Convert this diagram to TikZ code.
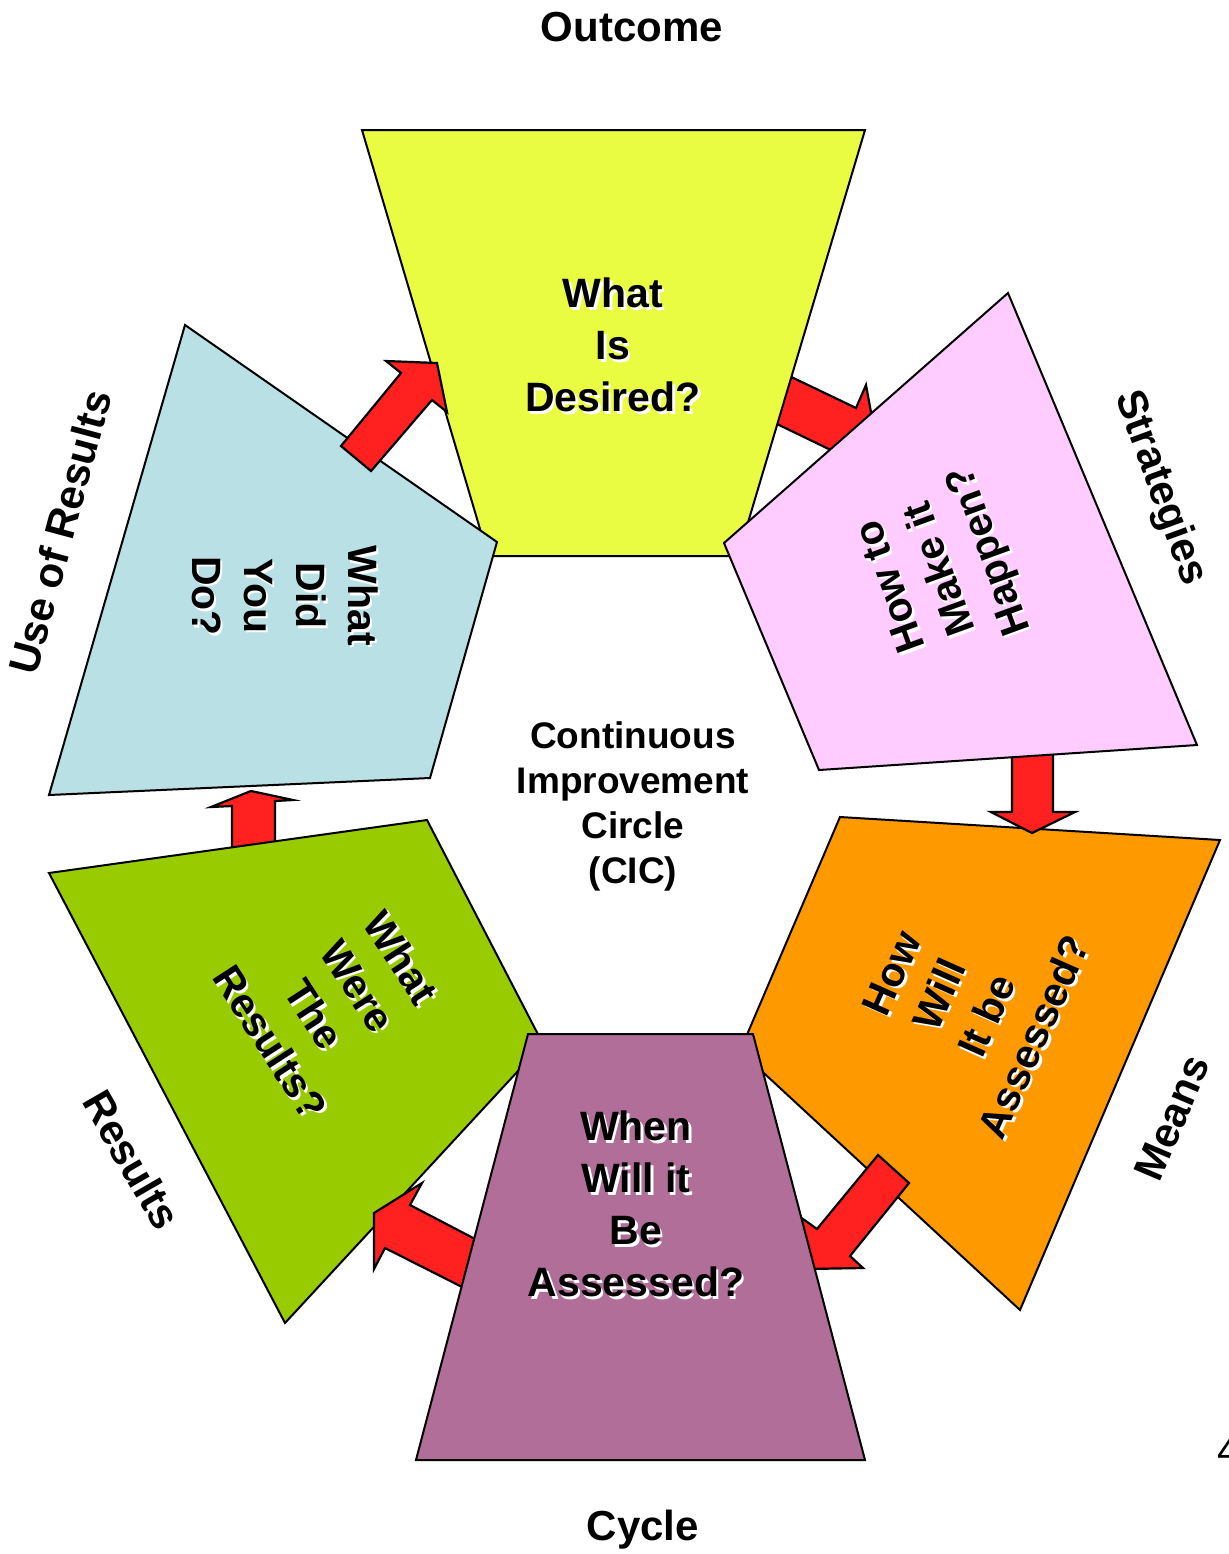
\documentclass[tikz,border=0pt]{standalone}
\usepackage{fontspec}
\setmainfont{Liberation Sans}
\usetikzlibrary{calc}

\definecolor{cicyellow}{RGB}{233,252,66}
\definecolor{cicpink}{RGB}{255,204,255}
\definecolor{cicblue}{RGB}{185,224,228}
\definecolor{cicorange}{RGB}{255,153,0}
\definecolor{cicpurple}{RGB}{176,110,152}
\definecolor{cicgreen}{RGB}{153,204,0}
\definecolor{cicred}{RGB}{255,32,32}

% box text with a white drop shadow: name, rotation, style, text, position
\newcommand{\cictext}[5]{%
  \node[#3, text=white, rotate=#2] (#1-sh) at ($(#5)+(2.5,2.5)$) {#4};
  \node[#3, rotate=#2] (#1) at (#5) {#4};}

\tikzset{
  panel/.style={draw=black, line width=1pt, line join=miter},
  redarrow/.style={draw=black, fill=cicred, line width=1.1pt, line join=miter},
  boxtext/.style={font=\fontsize{20.5}{26}\selectfont\bfseries, align=center, inner sep=0pt},
  sidetext/.style={font=\fontsize{21}{25}\selectfont\bfseries, inner sep=0pt},
  centertext/.style={font=\fontsize{18.5}{22.5}\selectfont\bfseries, align=center, inner sep=0pt},
}

\begin{document}
\begin{tikzpicture}[x=0.5pt, y=-0.5pt]
\useasboundingbox (0,0) rectangle (1228,1554);

% back layer: orange panel and the arrows that pass beneath other panels
\draw[panel, fill=cicorange] (840,817) -- (1220,840) -- (1020,1310) -- (740,1051) -- cycle;
\draw[redarrow] (760,362) -- (856,408) -- (866,385) -- (877,445) -- (824,475) -- (835,452) -- (748,410) -- cycle;
\draw[redarrow] (1012,740) -- (1053,740) -- (1053,812) -- (1075,812) -- (1032,833) -- (991,812) -- (1012,812) -- cycle;
\draw[redarrow] (878,1155) -- (909,1183) -- (850,1256) -- (863,1268) -- (808,1269) -- (796,1214) -- (817,1229) -- cycle;
\draw[redarrow] (232,860) -- (232,806) -- (211,807) -- (251,791) -- (293,800) -- (275,801) -- (275,860) -- cycle;

% top and upper-left panels
\draw[panel, fill=cicyellow] (362,130) -- (865,130) -- (738,556) -- (488,556) -- cycle;
\draw[panel, fill=cicblue] (185,325) -- (497,542) -- (430,778) -- (49,795) -- cycle;
\draw[redarrow] (341,446) -- (401,373) -- (386,361) -- (437,363) -- (447,412) -- (432,400) -- (371,471) -- cycle;

% lower-left panel and its incoming arrow
\draw[panel, fill=cicgreen] (49,873) -- (427,820) -- (543,1044) -- (285,1323) -- cycle;
\draw[redarrow] (422,1183) -- (410,1205) -- (498,1251) -- (476,1294) -- (385,1248) -- (374,1269) -- (374,1213) -- cycle;

% front panels
\draw[panel, fill=cicpink] (1008,293) -- (1197,745) -- (819,770) -- (724,543) -- cycle;
\draw[panel, fill=cicpurple] (528,1034) -- (753,1034) -- (865,1460) -- (416,1460) -- cycle;

% panel questions
\cictext{qdesired}{0}{boxtext}{What\\Is\\Desired?}{613,345}
\cictext{qhappen}{110}{boxtext}{How to\\Make it\\Happen?}{942,568}
\cictext{qassessed}{66}{boxtext}{How\\Will\\It be\\Assessed?}{963,1005}
\cictext{qwhen}{0}{boxtext}{When\\Will it\\Be\\Assessed?}{636,1204}
\cictext{qresults}{-57}{boxtext}{What\\Were\\The\\Results?}{336,1000}
\cictext{qdid}{-90}{boxtext}{What\\Did\\You\\Do?}{285,596}

% centre title
\node[centertext] (cic) at (633,806) {Continuous\\Improvement\\Circle\\(CIC)};

% labels around the circle
\node[sidetext] (outcome) at (632,27) {Outcome};
\node[sidetext, rotate=-70] (strategies) at (1160,488) {Strategies};
\node[sidetext, rotate=67] (means) at (1172,1118) {Means};
\node[sidetext] (cycle) at (643,1530) {Cycle};
\node[sidetext, rotate=-60] (results) at (132,1160) {Results};
\node[sidetext, rotate=75] (useresults) at (60,532) {Use of Results};

% page number at the right margin
\node[font=\fontsize{20}{24}\selectfont, inner sep=0pt, anchor=base west] (pagenum) at (1217,1464) {4};
\end{tikzpicture}
\end{document}
